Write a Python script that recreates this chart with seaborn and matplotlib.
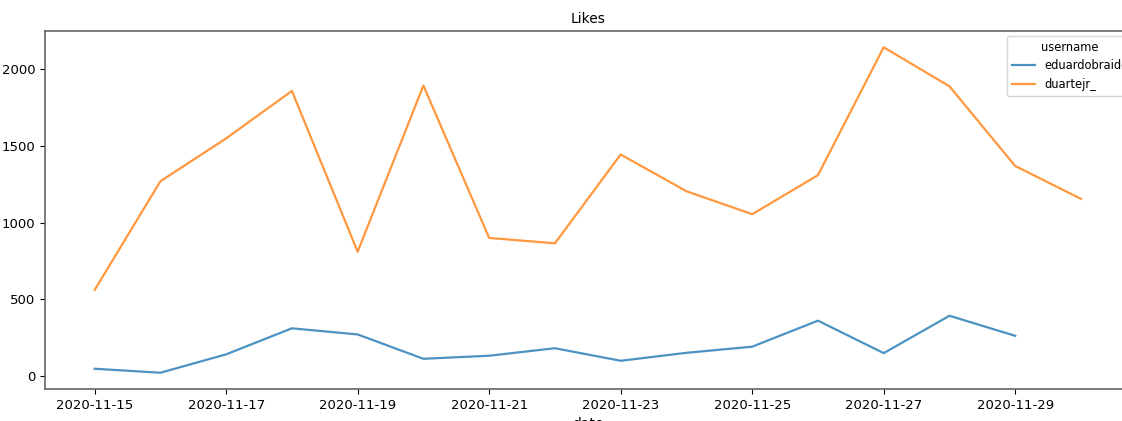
# Likes per day, two accounts
import seaborn as sns
import pandas as pd
import matplotlib.pyplot as plt
import matplotlib.dates as mdates

dates = pd.date_range('2020-11-15', '2020-11-30', freq='D')

likes_duartejr = [560, 1270, 1550, 1860, 810, 1895, 900, 865,
                  1445, 1205, 1055, 1310, 2145, 1890, 1370, 1155]
# no post from eduardobraide on the 30th
likes_eduardobraide = [46, 20, 140, 310, 270, 111, 131, 180,
                       98, 150, 190, 360, 148, 392, 261]

df = pd.concat([
    pd.DataFrame({'date': dates[:len(likes_eduardobraide)], 'likes': likes_eduardobraide,
                  'username': 'eduardobraide'}),
    pd.DataFrame({'date': dates, 'likes': likes_duartejr, 'username': 'duartejr_'}),
])

fig = plt.figure(figsize=(11.22, 4.21), dpi=100)
# axes run past the right edge, the original screenshot was cropped there
ax = fig.add_axes([45.3 / 1122, 32 / 421, 1085 / 1122, 358 / 421])

sns.lineplot(data=df, x='date', y='likes', hue='username', ax=ax,
             palette={'eduardobraide': '#1f77b4', 'duartejr_': '#ff7f0e'},
             linewidth=1.6, alpha=0.8)

ax.set_title('Likes', fontsize=10)
ax.set_xlabel('date', fontsize=10)
ax.set_ylabel('')
ax.set_yticks([0, 500, 1000, 1500, 2000])
ax.xaxis.set_major_locator(mdates.DayLocator(bymonthday=[15, 17, 19, 21, 23, 25, 27, 29]))
ax.xaxis.set_major_formatter(mdates.DateFormatter('%Y-%m-%d'))
ax.tick_params(labelsize=9.5)
for s in ax.spines.values():
    s.set_color('#666666')
    s.set_linewidth(1.2)

ax.legend(title='username', loc='upper left', bbox_to_anchor=(0.8864, 0.986),
          borderaxespad=0, fontsize=8.3, title_fontsize=8.3)

fig.savefig('out.png', dpi=100)
